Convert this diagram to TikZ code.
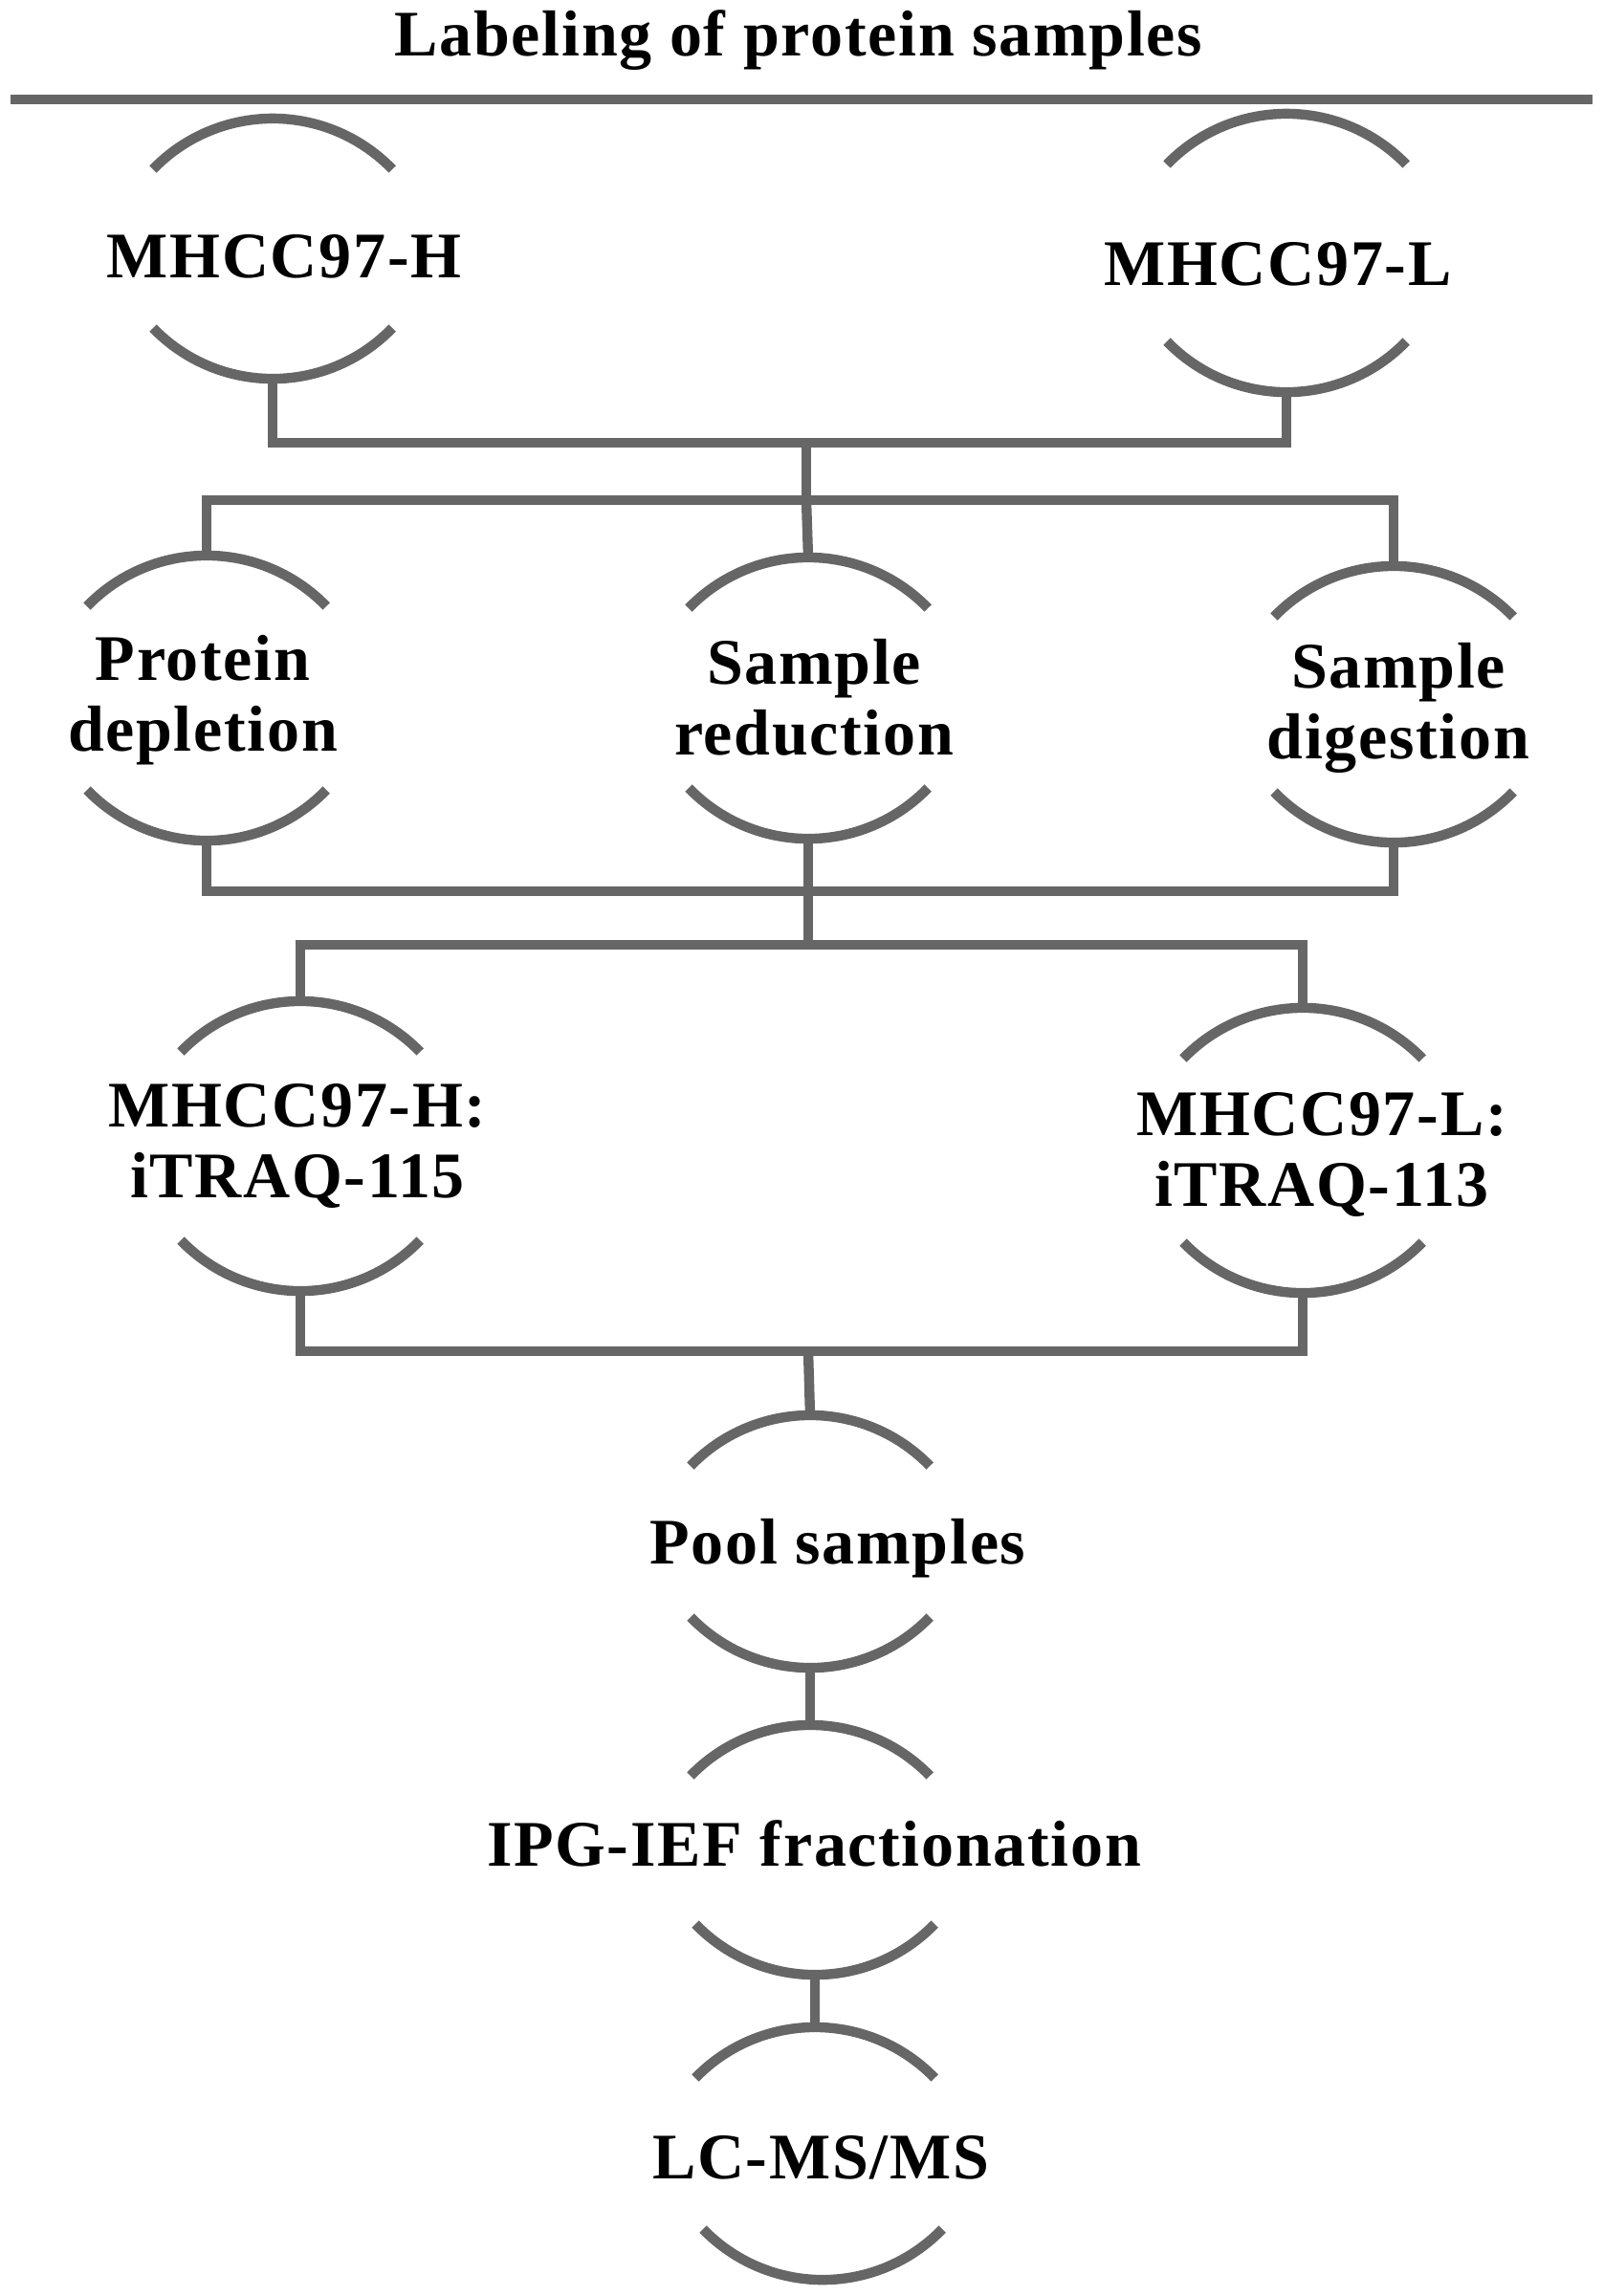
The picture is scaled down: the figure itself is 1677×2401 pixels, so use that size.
\documentclass[tikz,border=0pt]{standalone}
\usepackage{fontspec}
\setmainfont{Liberation Serif}[LetterSpace=2.5]
\definecolor{linegray}{RGB}{102,102,102}
\begin{document}
\begin{tikzpicture}[x=0.25pt,y=-0.25pt,
  conn/.style={draw=linegray,line width=2.6pt},
  lbl/.style={font=\fontsize{17pt}{18.4pt}\selectfont\bfseries,text=black,inner sep=0pt,align=center},
  toparc/.pic={\draw[conn] (-125,53) arc[start angle=224,end angle=316,radius=173.9];},
  botarc/.pic={\draw[conn] (-125,-53) arc[start angle=136,end angle=44,radius=173.9];}]
\useasboundingbox (0,0) rectangle (1677,2401);
% title and rule
\node[lbl,anchor=base] (title) at (835,58) {Labeling of protein samples};
\coordinate (ruleL) at (11,104);
\coordinate (ruleR) at (1665,104);
\draw[conn] (ruleL) -- (ruleR);
% arc anchor points
\coordinate (hT) at (285,124);   \coordinate (hB) at (285,396);
\coordinate (lT) at (1345,119);  \coordinate (lB) at (1345,410);
\coordinate (pdT) at (216,581);  \coordinate (pdB) at (216,879);
\coordinate (srT) at (845,583);  \coordinate (srB) at (845,877);
\coordinate (sdT) at (1457,592); \coordinate (sdB) at (1457,881);
\coordinate (ihT) at (314,1047); \coordinate (ihB) at (314,1350);
\coordinate (ilT) at (1362,1054);\coordinate (ilB) at (1362,1352);
\coordinate (poT) at (847,1480); \coordinate (poB) at (847,1744);
\coordinate (ipT) at (847,1804); \coordinate (ipB) at (852,2065);
\coordinate (lcT) at (852,2120); \coordinate (lcB) at (860,2384);
% junctions
\coordinate (j1) at (843,463);
\coordinate (j2) at (843,523);
\coordinate (j3) at (845,932);
\coordinate (j4) at (845,988);
\coordinate (j5) at (845,1413);
% arcs
\foreach \n in {hT,lT,pdT,srT,sdT,ihT,ilT,poT,ipT,lcT} {\pic at (\n) {toparc};}
\foreach \n in {hB,lB,pdB,srB,sdB,ihB,ilB,poB,ipB,lcB} {\pic at (\n) {botarc};}
% labels (anchor=base is the baseline of the last line)
\node[lbl,anchor=base] (tH) at (297,290) {MHCC97-H};
\node[lbl,anchor=base] (tL) at (1336,298) {MHCC97-L};
\node[lbl,anchor=base] (tPD) at (212,785) {Protein\\depletion};
\node[lbl,anchor=base] (tSR) at (851,789) {Sample\\reduction};
\node[lbl,anchor=base] (tSD) at (1462,793) {Sample\\digestion};
\node[lbl,anchor=base] (tIH) at (311,1252) {MHCC97-H:\\iTRAQ-115};
\node[lbl,anchor=base] (tIL) at (1382,1261) {MHCC97-L:\\iTRAQ-113};
\node[lbl,anchor=base] (tPO) at (876,1635) {Pool samples};
\node[lbl,anchor=base] (tIP) at (851,1951) {IPG-IEF fractionation};
\node[lbl,anchor=base] (tLC) at (858,2278) {LC-MS/MS};
% connectors
\draw[conn] (hB) -- (hB |- j1) -- (lB |- j1) -- (lB);
\draw[conn] (j1) -- (j2);
\draw[conn] (pdT) -- (pdT |- j2) -- (sdT |- j2) -- (sdT);
\draw[conn] (j2) -- (srT);
\draw[conn] (pdB) -- (pdB |- j3) -- (sdB |- j3) -- (sdB);
\draw[conn] (srB) -- (j4);
\draw[conn] (ihT) -- (ihT |- j4) -- (ilT |- j4) -- (ilT);
\draw[conn] (ihB) -- (ihB |- j5) -- (ilB |- j5) -- (ilB);
\draw[conn] (j5) -- (poT);
\draw[conn] (poB) -- (ipT);
\draw[conn] (ipB) -- (lcT);
\end{tikzpicture}
\end{document}
